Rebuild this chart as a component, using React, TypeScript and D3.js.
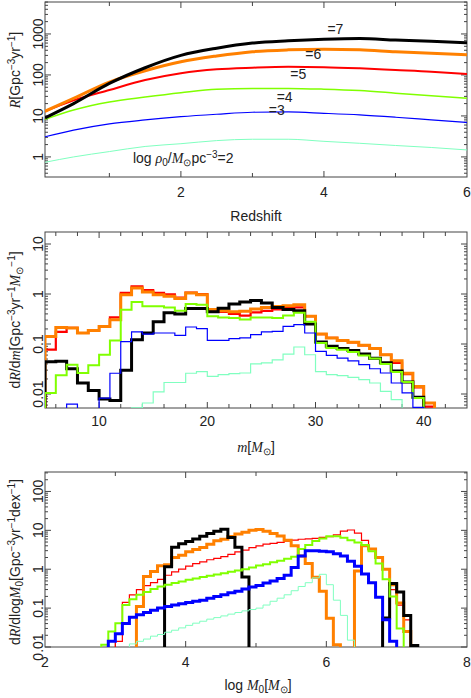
import React, { useRef, useEffect } from 'react';
import * as d3 from 'd3';

// ---- top panel: rate vs redshift, one curve per log rho0
const redshifts = [0.1, 0.5, 1, 1.5, 2, 2.5, 3, 3.5, 4, 4.5, 5, 5.5, 6];
const rateRho7 = [9, 20, 62, 150, 300, 450, 600, 680, 740, 770, 710, 660, 610];
const rateRho6 = [13, 27, 67, 127, 210, 290, 370, 410, 425, 410, 370, 340, 310];
const rateRho5 = [13, 24, 43, 75, 110, 137, 150, 158, 155, 145, 132, 120, 105];
const rateRho4 = [8.3, 14, 22, 29, 37, 45, 47, 47, 45, 41.5, 36, 31, 27];
const rateRho3 = [3.1, 4.5, 6.4, 8, 9.6, 11, 12.3, 12.5, 11.6, 10.6, 9.3, 8, 6.9];
const rateRho2 = [0.74, 1.0, 1.35, 1.8, 2.1, 2.5, 2.7, 2.7, 2.4, 2.15, 1.9, 1.7, 1.48];
const rhoLabels = ['=7', '=6', '=5', '=4', '=3'];

// ---- middle panel: dR/dm, 1 Msun bins from m = 5
const massStart = 5;
const massWidth = 1;
const dmRho7 = [0.044, 0.045, 0.032, 0.0166, 0.0118, 0.0079, 0.0074, 0.030, 0.122, 0.166, 0.28, 0.42, 0.40, 0.51, 0.51, 0.44, 0.52, 0.63, 0.69, 0.74, 0.66, 0.54, 0.49, 0.46, 0.25, 0.11, 0.090, 0.081, 0.074, 0.063, 0.052, 0.042, 0.029, 0.0174, 0.0086];
const dmRho6 = [0.142, 0.215, 0.21, 0.166, 0.186, 0.225, 0.307, 0.97, 1.32, 1.10, 0.97, 0.90, 0.81, 1.05, 0.97, 0.49, 0.46, 0.44, 0.45, 0.50, 0.54, 0.56, 0.58, 0.61, 0.36, 0.158, 0.132, 0.118, 0.108, 0.094, 0.081, 0.061, 0.046, 0.026, 0.0142, 0.0066];
const dmRho5 = [0.077, 0.174, 0.21, 0.166, 0.186, 0.225, 0.34, 1.05, 1.43, 1.2, 1.05, 0.98, 0.85, 1.07, 0.99, 0.45, 0.44, 0.40, 0.37, 0.43, 0.46, 0.49, 0.52, 0.54, 0.36, 0.158, 0.132, 0.118, 0.108, 0.094, 0.081, 0.061, 0.042, 0.025, 0.0136, 0.0056];
const dmRho4 = [0.0105, 0.0236, 0.0386, 0.0263, 0.0374, 0.061, 0.118, 0.486, 0.69, 0.57, 0.57, 0.54, 0.46, 0.63, 0.61, 0.36, 0.34, 0.33, 0.31, 0.34, 0.34, 0.33, 0.37, 0.42, 0.28, 0.105, 0.083, 0.077, 0.069, 0.059, 0.051, 0.040, 0.0275, 0.0174, 0.0083];
const dmRho3 = [0, 0, 0.0063, 0, 0, 0.0083, 0.026, 0.112, 0.174, 0.158, 0.166, 0.166, 0.149, 0.219, 0.203, 0.118, 0.118, 0.128, 0.132, 0.154, 0.174, 0.179, 0.225, 0.244, 0.166, 0.071, 0.059, 0.052, 0.046, 0.0386, 0.032, 0.0263, 0.0166, 0.0105, 0.0054];
const dmRho2 = [0, 0, 0, 0, 0, 0, 0, 0, 0.0053, 0.0066, 0.011, 0.017, 0.017, 0.026, 0.028, 0.0225, 0.0244, 0.0255, 0.0263, 0.040, 0.042, 0.048, 0.063, 0.087, 0.061, 0.028, 0.0244, 0.0233, 0.0215, 0.0194, 0.0166, 0.0113, 0.0077];

// ---- bottom panel: dR/dlogM0, 0.1 dex bins, each series with its first bin edge
const dexWidth = 0.1;
const dlogRho7Start = 3.7;
const dlogRho7 = [1.15, 3.7, 4.5, 5.2, 6.0, 7.0, 8.3, 9.5, 10.7, 6.5, 3.7, 0.63, 0, 0, 0, 0, 0, 0, 0, 0, 0, 0, 0, 0, 0, 0, 0, 0, 0, 0, 0, 0.056, 0.43, 0.26, 0.065, 0.011];
const dlogRho6Start = 3.3;
const dlogRho6 = [0.11, 0.65, 0.87, 1.22, 1.3, 2.0, 2.3, 2.8, 3.2, 3.6, 4.4, 5.4, 5.9, 6.9, 8.1, 8.9, 10.0, 10.5, 9.5, 8.3, 7.2, 5.6, 4.0, 2.2, 1.4, 0.62, 0.27, 0.055, 0.0115, 0, 0, 0.9, 4.0, 3.3, 2.0, 1.0, 0.4, 0.135, 0.025];
const dlogRho5Start = 3.0;
const dlogRho5 = [0.014, 0.14, 0.22, 0.3, 0.38, 0.45, 0.55, 0.7, 0.85, 1.0, 1.2, 1.4, 1.55, 1.75, 1.9, 2.1, 2.4, 2.8, 3.1, 3.6, 4.0, 4.4, 4.6, 4.9, 5.3, 5.6, 5.9, 6.0, 6.2, 6.6, 6.9, 7.6, 9.5, 10.2, 8.5, 5.5, 3.3, 2.0, 1.0, 0.3, 0.12, 0.05];
const dlogRho4Start = 2.8;
const dlogRho4 = [0.0115, 0.025, 0.041, 0.12, 0.17, 0.22, 0.26, 0.31, 0.36, 0.40, 0.44, 0.48, 0.54, 0.58, 0.63, 0.68, 0.73, 0.79, 0.86, 0.93, 1.0, 1.1, 1.25, 1.35, 1.5, 1.65, 1.85, 2.1, 3.3, 4.2, 5.3, 6.2, 7.0, 7.0, 6.4, 5.6, 4.9, 4.2, 2.9, 1.4, 0.55, 0.2, 0.03];
const dlogRho3Start = 2.9;
const dlogRho3 = [0.014, 0.022, 0.04, 0.058, 0.068, 0.077, 0.088, 0.1, 0.11, 0.12, 0.13, 0.14, 0.15, 0.16, 0.18, 0.2, 0.22, 0.25, 0.27, 0.31, 0.35, 0.38, 0.44, 0.5, 0.58, 0.7, 1.1, 2.2, 3.0, 3.0, 2.9, 2.8, 2.5, 2.2, 1.6, 1.2, 0.75, 0.45, 0.19, 0.05, 0.014];
const dlogRho2Start = 3.2;
const dlogRho2 = [0.012, 0.014, 0.016, 0.019, 0.021, 0.024, 0.027, 0.031, 0.036, 0.041, 0.046, 0.052, 0.057, 0.063, 0.07, 0.077, 0.085, 0.092, 0.1, 0.12, 0.15, 0.18, 0.22, 0.28, 0.36, 0.45, 0.6, 0.74, 0.4, 0.16, 0.065, 0.015];

// ticks
const topXLabels = [2, 4, 6];
const topXMinor = [1, 3, 5];
const topYLabels = [1, 10, 100, 1000];
const midXLabels = [10, 20, 30, 40];
const midXMinor = [6, 8, 12, 14, 16, 18, 22, 24, 26, 28, 32, 34, 36, 38, 42];
const midYLabels = [0.01, 0.1, 1, 10];
const botXLabels = [2, 4, 6, 8];
const botXMinor = [3, 5, 7];
const botYLabels = [0.01, 0.1, 1, 10, 100];

const C7 = '#000000', C6 = '#ff8000', C5 = '#ff0000', C4 = '#80ff00', C3 = '#0000ff', C2 = '#80ffc0';

const SANS = '"Liberation Sans", Arial, sans-serif';
const FS = 14;

// rich text: [text, kind] where kind is '', 'i', 'sup', 'sub'
type Part = [string, string];
const rich = (parts: Part[]) => {
  let shift = 0;
  return parts.map(([t, k]) => {
    const target = k === 'sup' ? -5 : k === 'sub' ? 3 : 0;
    const dy = target - shift;
    shift = target;
    const attrs: string[] = [];
    if (dy) attrs.push(`dy="${dy}"`);
    if (k === 'sup' || k === 'sub') attrs.push('font-size="10"');
    if (k === 'i') attrs.push('font-family="Liberation Serif" font-style="italic"');
    return `<tspan ${attrs.join(' ')}>${t}</tspan>`;
  }).join('');
};

const App = () => {
  const svgRef = useRef<SVGSVGElement>(null);

  useEffect(() => {
    const svg = d3.select(svgRef.current);
    svg.selectAll('*').remove();

    const left = 45, right = 467;

    const frame = (g: any, x: any, y: any, xLabels: number[], xMinor: number[], yLabels: number[], xLabelY: number, id: string) => {
      const [x0, x1] = x.range();
      const [y1, y0] = y.range();
      g.append('clipPath').attr('id', id)
        .append('rect').attr('x', x0).attr('y', y0).attr('width', x1 - x0).attr('height', y1 - y0);

      const ticks = g.append('g').attr('stroke', '#444').attr('stroke-width', 1);
      // x ticks on top and bottom
      [...xLabels.map(v => ({ v, len: 6 })), ...xMinor.map(v => ({ v, len: 4 }))].forEach(({ v, len }) => {
        const px = x(v);
        if (px <= x0 + 0.5 || px >= x1 - 0.5) return;
        ticks.append('line').attr('x1', px).attr('x2', px).attr('y1', y1).attr('y2', y1 - len);
        ticks.append('line').attr('x1', px).attr('x2', px).attr('y1', y0).attr('y2', y0 + len);
      });
      // log y ticks left and right
      const [a, b] = y.domain();
      for (let e = Math.floor(Math.log10(a)); e <= Math.ceil(Math.log10(b)); e++) {
        for (let k = 1; k <= 9; k++) {
          const v = k * Math.pow(10, e);
          if (v < a || v > b) continue;
          const py = y(v);
          const len = k === 1 ? 6 : 3;
          ticks.append('line').attr('x1', x0).attr('x2', x0 + len).attr('y1', py).attr('y2', py);
          ticks.append('line').attr('x1', x1).attr('x2', x1 - len).attr('y1', py).attr('y2', py);
        }
      }
      g.append('rect').attr('x', x0).attr('y', y0).attr('width', x1 - x0).attr('height', y1 - y0)
        .attr('fill', 'none').attr('stroke', '#444').attr('stroke-width', 1);

      g.selectAll('.xl').data(xLabels).enter().append('text')
        .attr('x', (d: number) => x(d)).attr('y', xLabelY)
        .attr('text-anchor', 'middle').attr('font-family', SANS).attr('font-size', FS).attr('fill', '#222')
        .text((d: number) => String(d));
      g.selectAll('.yl').data(yLabels).enter().append('text')
        .attr('transform', (d: number) => `translate(43,${y(d)}) rotate(-90)`)
        .attr('text-anchor', 'middle').attr('font-family', SANS).attr('font-size', FS).attr('fill', '#222')
        .text((d: number) => String(d));
    };

    const label = (g: any, x: number, y: number, html: string, rotate = false, anchor = 'middle') => {
      g.append('text')
        .attr('transform', rotate ? `translate(${x},${y}) rotate(-90)` : `translate(${x},${y})`)
        .attr('text-anchor', anchor).attr('font-family', SANS).attr('font-size', FS).attr('fill', '#222')
        .html(html);
    };

    // ---------- top panel
    const gTop = svg.append('g');
    const xTop = d3.scaleLinear().domain([0.1, 6]).range([left, right]);
    const yTop = d3.scaleLog().domain([Math.pow(10, -0.49), Math.pow(10, 3.78)]).range([177, 2]);
    frame(gTop, xTop, yTop, topXLabels, topXMinor, topYLabels, 197, 'clipTop');

    const curve = d3.line<number>()
      .x((d, i) => xTop(redshifts[i]))
      .y(d => yTop(d))
      .curve(d3.curveMonotoneX);
    const topSeries = [
      { v: rateRho2, c: C2, w: 1 },
      { v: rateRho3, c: C3, w: 1.2 },
      { v: rateRho4, c: C4, w: 1.5 },
      { v: rateRho5, c: C5, w: 2 },
      { v: rateRho6, c: C6, w: 3 },
      { v: rateRho7, c: C7, w: 3 },
    ];
    const topLines = gTop.append('g').attr('clip-path', 'url(#clipTop)');
    topSeries.forEach(s => {
      topLines.append('path').datum(s.v).attr('d', curve)
        .attr('fill', 'none').attr('stroke', s.c).attr('stroke-width', s.w);
    });

    const rhoLabelPos = [[4.16, 1000], [3.85, 250], [3.64, 80], [3.45, 22], [3.34, 10.5]];
    rhoLabels.forEach((t, i) => label(gTop, xTop(rhoLabelPos[i][0]), yTop(rhoLabelPos[i][1]), t));
    label(gTop, xTop(1.33), yTop(0.72),
      rich([['log  ', ''], ['ρ', 'i'], ['0', 'sub'], ['/', ''], ['M', 'i'], ['⊙', 'sub'], ['pc', ''], ['−3', 'sup'], ['=2', '']]),
      false, 'start');

    label(gTop, 256, 221, 'Redshift');
    label(gTop, 20, 70, rich([['R', 'i'], ['[Gpc', ''], ['−3', 'sup'], ['yr', ''], ['−1', 'sup'], [']', '']]), true);

    // ---------- step helper
    const steps = (start: number, width: number, values: number[], floor: number) => {
      const pts: [number, number][] = [[start, floor]];
      values.forEach((v, i) => pts.push([start + i * width, v > 0 ? v : floor]));
      pts.push([start + values.length * width, floor]);
      return pts;
    };

    // ---------- middle panel
    const gMid = svg.append('g');
    const xMid = d3.scaleLinear().domain([5, 44]).range([left, right]);
    const yMid = d3.scaleLog().domain([Math.pow(10, -2.28), Math.pow(10, 1.24)]).range([408, 232]);
    frame(gMid, xMid, yMid, midXLabels, midXMinor, midYLabels, 426, 'clipMid');

    const midLine = d3.line<[number, number]>()
      .x(d => xMid(d[0])).y(d => yMid(d[1])).curve(d3.curveStepAfter);
    const midSeries = [
      { v: dmRho5, c: C5, w: 2.2 },
      { v: dmRho6, c: C6, w: 3 },
      { v: dmRho7, c: C7, w: 3 },
      { v: dmRho4, c: C4, w: 2 },
      { v: dmRho3, c: C3, w: 1.2 },
      { v: dmRho2, c: C2, w: 1.2 },
    ];
    const midLines = gMid.append('g').attr('clip-path', 'url(#clipMid)');
    midSeries.forEach(s => {
      midLines.append('path').datum(steps(massStart, massWidth, s.v, 1e-4)).attr('d', midLine)
        .attr('fill', 'none').attr('stroke', s.c).attr('stroke-width', s.w);
    });

    label(gMid, 256, 452, rich([['m', 'i'], ['[', ''], ['M', 'i'], ['⊙', 'sub'], [']', '']]));
    label(gMid, 20, 320, rich([['d', ''], ['R', 'i'], ['/d', ''], ['m', 'i'], ['[Gpc', ''], ['−3', 'sup'], ['yr', ''], ['−1', 'sup'],
      ['M', 'i'], ['⊙', 'sub'], ['−1', 'sup'], [']', '']]), true);

    // ---------- bottom panel
    const gBot = svg.append('g');
    const xBot = d3.scaleLinear().domain([2, 8]).range([left, right]);
    const yBot = d3.scaleLog().domain([0.01, Math.pow(10, 2.5)]).range([647, 472]);
    frame(gBot, xBot, yBot, botXLabels, botXMinor, botYLabels, 667, 'clipBot');

    const botLine = d3.line<[number, number]>()
      .x(d => xBot(d[0])).y(d => yBot(d[1])).curve(d3.curveStepAfter);
    const botSeries = [
      { s: dlogRho5Start, v: dlogRho5, c: C5, w: 1.2 },
      { s: dlogRho6Start, v: dlogRho6, c: C6, w: 3 },
      { s: dlogRho7Start, v: dlogRho7, c: C7, w: 3 },
      { s: dlogRho4Start, v: dlogRho4, c: C4, w: 2 },
      { s: dlogRho3Start, v: dlogRho3, c: C3, w: 3 },
      { s: dlogRho2Start, v: dlogRho2, c: C2, w: 1 },
    ];
    const botLines = gBot.append('g').attr('clip-path', 'url(#clipBot)');
    botSeries.forEach(s => {
      botLines.append('path').datum(steps(s.s, dexWidth, s.v, 1e-4)).attr('d', botLine)
        .attr('fill', 'none').attr('stroke', s.c).attr('stroke-width', s.w);
    });

    label(gBot, 258, 690, rich([['log  ', ''], ['M', 'i'], ['0', 'sub'], ['[', ''], ['M', 'i'], ['⊙', 'sub'], [']', '']]));
    label(gBot, 20, 562, rich([['d', ''], ['R', 'i'], ['/dlog', ''], ['M', 'i'], ['0', 'sub'], ['[Gpc', ''], ['−3', 'sup'],
      ['yr', ''], ['−1', 'sup'], ['dex', ''], ['−1', 'sup'], [']', '']]), true);
  }, []);

  return (
    <svg ref={svgRef} width={471} height={698}
      style={{ position: 'absolute', left: 0, top: 0, background: 'white' }} />
  );
};

export default App;
